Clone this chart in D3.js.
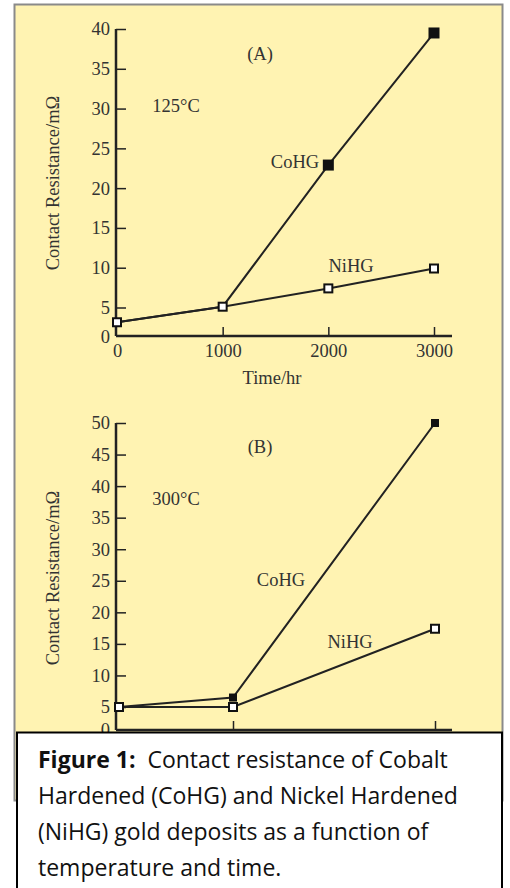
<!DOCTYPE html>
<html>
<head>
<meta charset="utf-8">
<script src="https://cdn.jsdelivr.net/npm/d3@7"></script>
<style>
  body { margin: 0; background: #fff; }
  .tick text { font-family: "Liberation Serif", serif; font-size: 18.5px; fill: #333; }
  .lbl { font-family: "Liberation Serif", serif; font-size: 18.5px; fill: #333; }
  .cap { font-family: "Open Sans", sans-serif; font-size: 23px; fill: #111; }
</style>
</head>
<body>
<div id="chart"></div>
<script>
// time points (hr)
var hoursA = [0, 1000, 2000, 3000];
var cohgA = [2.5, 5.1, 22.9, 39.5];
var nihgA = [2.5, 5.1, 7.4, 9.9];

var hoursB = [0, 1000, 3000];
var cohgB = [5, 6.5, 50];
var nihgB = [5, 5, 17.4];

var ticksX = [0, 1000, 2000, 3000];
var ticksYA = [0, 5, 10, 15, 20, 25, 30, 35, 40];
var ticksYB = [0, 5, 10, 15, 20, 25, 30, 35, 40, 45, 50];

var captionLines = [
    [{t: 'Figure 1:', b: true}, {t: '  Contact resistance of Cobalt'}],
    [{t: 'Hardened (CoHG) and Nickel Hardened'}],
    [{t: '(NiHG) gold deposits as a function of'}],
    [{t: 'temperature and time.'}]
];

var W = 510, H = 888;
var svg = d3.select('#chart').append('svg')
    .attr('width', W).attr('height', H);

// yellow panel
svg.append('rect')
    .attr('x', 14.5).attr('y', 4.5).attr('width', 488).attr('height', 796)
    .attr('fill', '#fff3b2').attr('stroke', '#8a8a8a').attr('stroke-width', 2);

function panel(cfg) {
    var g = svg.append('g');
    var x = d3.scaleLinear().domain(cfg.xDom).range(cfg.xRng);
    var y = d3.scaleLinear().domain(cfg.yDom).range(cfg.yRng);

    var yAxis = d3.axisRight(y).tickValues(cfg.yTicks).tickSize(10)
        .tickFormat(d3.format('d'));
    var ya = g.append('g').attr('transform', 'translate(' + cfg.x0 + ',0)').call(yAxis);
    ya.selectAll('.tick text').attr('text-anchor', 'end').attr('x', -6).attr('dy', '0.32em');
    ya.select('.domain').attr('d', 'M0,' + y(cfg.yDom[cfg.yDom.length - 1]) + 'V' + cfg.yBase)
        .attr('stroke', '#222').attr('stroke-width', 2.5);
    ya.selectAll('.tick line').attr('stroke', '#222').attr('stroke-width', 1.5);
    ya.selectAll('.tick').filter(function (d) { return d === 0; }).select('line').remove();

    var xAxis = d3.axisTop(x).tickValues(cfg.xTicks).tickSize(9)
        .tickFormat(cfg.xLabels ? d3.format('d') : '');
    var xa = g.append('g').attr('transform', 'translate(0,' + cfg.yBase + ')').call(xAxis);
    xa.select('.domain').attr('d', 'M' + cfg.x0 + ',0H' + cfg.xEnd)
        .attr('stroke', '#222').attr('stroke-width', 2.5);
    xa.selectAll('.tick line').attr('stroke', '#222').attr('stroke-width', 1.5);
    xa.selectAll('.tick').filter(function (d) { return d === 0; }).select('line').remove();
    xa.selectAll('.tick text').attr('y', 8).attr('dy', '0.71em');

    var line = d3.line()
        .x(function (d) { return x(d[0]); })
        .y(function (d) { return y(d[1]); });

    var coPts = d3.zip(cfg.hours, cfg.co);
    var niPts = d3.zip(cfg.hours, cfg.ni);

    [coPts, niPts].forEach(function (pts) {
        g.append('path').datum(pts).attr('d', line)
            .attr('fill', 'none').attr('stroke', '#222').attr('stroke-width', 2);
    });

    var coOnly = coPts.filter(function (d, i) { return d[1] !== cfg.ni[i]; });
    g.selectAll('.co').data(coOnly).enter().append('rect')
        .attr('x', function (d) { return x(d[0]) - cfg.fs / 2; })
        .attr('y', function (d) { return y(d[1]) - cfg.fs / 2; })
        .attr('width', cfg.fs).attr('height', cfg.fs)
        .attr('fill', '#111');

    g.selectAll('.ni').data(niPts).enter().append('rect')
        .attr('x', function (d) { return x(d[0]) - 4; })
        .attr('y', function (d) { return y(d[1]) - 4; })
        .attr('width', 8).attr('height', 8)
        .attr('fill', '#fff').attr('stroke', '#111').attr('stroke-width', 2);

    cfg.labels.forEach(function (l) {
        g.append('text').attr('class', 'lbl')
            .attr('x', l.x).attr('y', l.y).attr('text-anchor', 'middle')
            .text(l.t);
    });

    g.append('text').attr('class', 'lbl')
        .attr('transform', 'translate(59,' + cfg.titleY + ') rotate(-90)')
        .attr('text-anchor', 'middle')
        .text('Contact Resistance/m\u03a9');
}

panel({
    xDom: [0, 3000], xRng: [117, 434], x0: 116, xEnd: 452,
    yDom: [0, 5, 40], yRng: [337, 307.5, 29], yBase: 336,
    xTicks: ticksX, yTicks: ticksYA, xLabels: true,
    hours: hoursA, co: cohgA, ni: nihgA, fs: 11,
    titleY: 183,
    labels: [
        {t: '(A)', x: 260, y: 60},
        {t: '125\u00b0C', x: 176, y: 112},
        {t: 'CoHG', x: 295, y: 168},
        {t: 'NiHG', x: 351, y: 272}
    ]
});

svg.append('text').attr('class', 'lbl')
    .attr('x', 272).attr('y', 384).attr('text-anchor', 'middle')
    .text('Time/hr');

panel({
    xDom: [0, 1000, 3000], xRng: [119, 233, 435], x0: 116, xEnd: 452,
    yDom: [0, 5, 50], yRng: [730, 707, 423], yBase: 730,
    xTicks: ticksX.filter(function (d) { return d !== 2000; }), yTicks: ticksYB, xLabels: false,
    hours: hoursB, co: cohgB, ni: nihgB, fs: 8,
    titleY: 578,
    labels: [
        {t: '(B)', x: 260, y: 453},
        {t: '300\u00b0C', x: 176, y: 505},
        {t: 'CoHG', x: 281, y: 586},
        {t: 'NiHG', x: 350, y: 648}
    ]
});

// caption box
svg.append('rect')
    .attr('x', 17).attr('y', 732.5).attr('width', 485).attr('height', 170)
    .attr('fill', '#fff').attr('stroke', '#000').attr('stroke-width', 2);

var baselines = [768, 804, 840, 876];
captionLines.forEach(function (parts, i) {
    var t = svg.append('text').attr('class', 'cap')
        .attr('x', 38).attr('y', baselines[i]).attr('xml:space', 'preserve');
    parts.forEach(function (p) {
        t.append('tspan').attr('font-weight', p.b ? 'bold' : null).text(p.t);
    });
});
</script>
</body>
</html>
